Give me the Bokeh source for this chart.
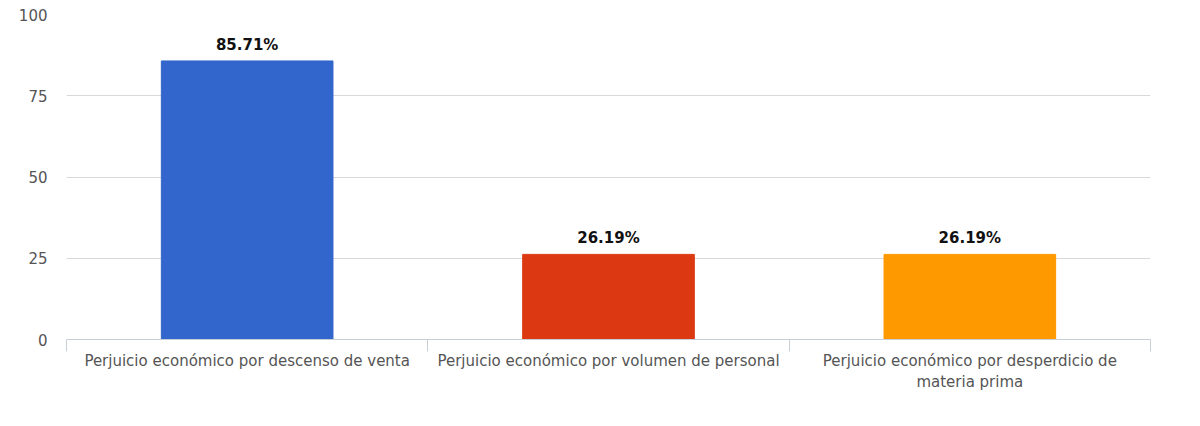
from bokeh.plotting import figure
from bokeh.models import ColumnDataSource, LabelSet, LinearAxis, FixedTicker, Range1d
from bokeh.core.properties import value
from bokeh.embed import file_html
from bokeh.resources import INLINE
import numpy as np

# Data
categories = [
    "Perjuicio económico por descenso de venta",
    "Perjuicio económico por volumen de personal",
    "Perjuicio económico por desperdicio de materia prima",
]
tick_labels = [
    "Perjuicio económico por descenso de venta",
    "Perjuicio económico por volumen de personal",
    "Perjuicio económico por desperdicio de\nmateria prima",
]
values = [85.71, 26.19, 26.19]
colors = ["#3366CC", "#DC3912", "#FF9900"]
y_ticks = [0, 25, 50, 75, 100]

FONT = "DejaVu Sans"

x_pos = np.arange(len(categories)) + 0.5
source = ColumnDataSource(dict(
    x=x_pos,
    top=values,
    color=colors,
    name=categories,
    label=[f"{v:.2f}%" for v in values],
))

p = figure(
    width=1184, height=410,
    x_range=Range1d(0, len(categories)), y_range=Range1d(0, 100),
    output_backend="svg", toolbar_location=None, tools="",
    x_axis_type=None,
    min_border_left=66, min_border_right=34,
    min_border_top=14, min_border_bottom=71,
)

p.vbar(x="x", top="top", width=0.475, color="color", source=source)

labels = LabelSet(
    x="x", y="top", text="label", source=source,
    text_align="center", text_baseline="alphabetic",
    y_offset=11, text_font=value(FONT), text_font_size="15px",
    text_font_style="bold", text_color="#111111",
)
p.add_layout(labels)

# bottom axis: labels at bar centres, small ticks at category boundaries
xaxis = LinearAxis(
    ticker=FixedTicker(ticks=list(x_pos), minor_ticks=list(range(len(categories) + 1))),
    major_label_overrides={float(x): t for x, t in zip(x_pos, tick_labels)},
)
xaxis.axis_line_color = "#c8ced6"
xaxis.major_tick_line_color = None
xaxis.major_tick_out = 0
xaxis.major_tick_in = 0
xaxis.minor_tick_line_color = "#c8ced6"
xaxis.minor_tick_out = 12
xaxis.minor_tick_in = 0
xaxis.major_label_standoff = 0
xaxis.major_label_text_font = FONT
xaxis.major_label_text_font_size = "15px"
xaxis.major_label_text_color = "#555555"
p.add_layout(xaxis, "below")

yaxis = p.yaxis[0]
yaxis.ticker = FixedTicker(ticks=y_ticks)
yaxis.axis_line_color = None
yaxis.major_tick_line_color = None
yaxis.minor_tick_line_color = None
yaxis.major_tick_out = 0
yaxis.major_label_standoff = 19
yaxis.major_label_text_font = FONT
yaxis.major_label_text_font_size = "15px"
yaxis.major_label_text_color = "#555555"

p.xgrid.grid_line_color = None
p.ygrid.grid_line_color = "#d9d9d9"
p.ygrid.ticker = FixedTicker(ticks=y_ticks)
p.outline_line_color = None

open("out.html", "w").write(file_html(p, INLINE))
